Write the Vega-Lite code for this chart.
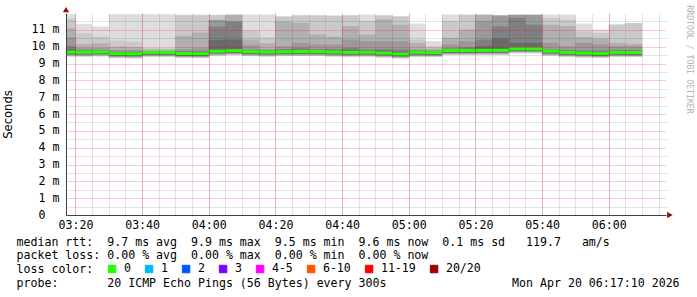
{
  "$schema": "https://vega.github.io/schema/vega-lite/v6.json",
  "width": 600,
  "height": 202,
  "autosize": {"type": "none"},
  "padding": {"left": 66, "top": 13, "right": 31, "bottom": 82},
  "background": "white",
  "config": {"view": {"stroke": null}},
  "data": {"values": [
      {"t": "2026-04-20T03:15:00", "t2": "2026-04-20T03:20:00", "h1": 11.93, "h2": 11.65, "h3": 11.10, "h4": 10.55, "h5": 10.05, "h6": 9.85, "m": 9.68, "lo5": 9.55, "lo3": 9.49, "lo": 9.42, "loss": "0"},
      {"t": "2026-04-20T03:20:00", "t2": "2026-04-20T03:25:00", "h1": 11.36, "h2": 10.80, "h3": 10.15, "h4": 9.92, "h5": 9.80, "h6": 9.74, "m": 9.67, "lo5": 9.54, "lo3": 9.48, "lo": 9.41, "loss": "0"},
      {"t": "2026-04-20T03:25:00", "t2": "2026-04-20T03:30:00", "h1": 11.20, "h2": 10.60, "h3": 10.20, "h4": 9.92, "h5": 9.80, "h6": 9.75, "m": 9.69, "lo5": 9.56, "lo3": 9.50, "lo": 9.43, "loss": "0"},
      {"t": "2026-04-20T03:30:00", "t2": "2026-04-20T03:35:00", "h1": 11.93, "h2": 10.36, "h3": 10.00, "h4": 9.80, "h5": 9.70, "h6": 9.64, "m": 9.58, "lo5": 9.45, "lo3": 9.39, "lo": 9.32, "loss": "0"},
      {"t": "2026-04-20T03:35:00", "t2": "2026-04-20T03:40:00", "h1": 11.93, "h2": 10.30, "h3": 9.97, "h4": 9.80, "h5": 9.70, "h6": 9.63, "m": 9.57, "lo5": 9.44, "lo3": 9.38, "lo": 9.31, "loss": "0"},
      {"t": "2026-04-20T03:40:00", "t2": "2026-04-20T03:45:00", "h1": 11.93, "h2": 9.92, "h3": 9.82, "h4": 9.76, "h5": 9.72, "h6": 9.70, "m": 9.66, "lo5": 9.53, "lo3": 9.47, "lo": 9.40, "loss": "0"},
      {"t": "2026-04-20T03:45:00", "t2": "2026-04-20T03:50:00", "h1": 11.93, "h2": 9.90, "h3": 9.82, "h4": 9.76, "h5": 9.72, "h6": 9.70, "m": 9.66, "lo5": 9.53, "lo3": 9.47, "lo": 9.40, "loss": "0"},
      {"t": "2026-04-20T03:50:00", "t2": "2026-04-20T03:55:00", "h1": 11.91, "h2": 11.86, "h3": 10.64, "h4": 9.85, "h5": 9.75, "h6": 9.68, "m": 9.60, "lo5": 9.47, "lo3": 9.41, "lo": 9.34, "loss": "0"},
      {"t": "2026-04-20T03:55:00", "t2": "2026-04-20T04:00:00", "h1": 11.91, "h2": 11.86, "h3": 10.84, "h4": 9.90, "h5": 9.75, "h6": 9.67, "m": 9.58, "lo5": 9.45, "lo3": 9.39, "lo": 9.32, "loss": "0"},
      {"t": "2026-04-20T04:00:00", "t2": "2026-04-20T04:05:00", "h1": 11.89, "h2": 11.88, "h3": 11.59, "h4": 11.58, "h5": 11.20, "h6": 10.40, "m": 9.73, "lo5": 9.60, "lo3": 9.54, "lo": 9.47, "loss": "0"},
      {"t": "2026-04-20T04:05:00", "t2": "2026-04-20T04:10:00", "h1": 11.91, "h2": 11.90, "h3": 11.89, "h4": 11.50, "h5": 11.49, "h6": 10.42, "m": 9.76, "lo5": 9.63, "lo3": 9.57, "lo": 9.50, "loss": "0"},
      {"t": "2026-04-20T04:10:00", "t2": "2026-04-20T04:15:00", "h1": 11.91, "h2": 10.96, "h3": 10.42, "h4": 10.09, "h5": 9.80, "h6": 9.75, "m": 9.70, "lo5": 9.57, "lo3": 9.51, "lo": 9.44, "loss": "0"},
      {"t": "2026-04-20T04:15:00", "t2": "2026-04-20T04:20:00", "h1": 11.91, "h2": 10.55, "h3": 10.20, "h4": 9.85, "h5": 9.78, "h6": 9.74, "m": 9.68, "lo5": 9.55, "lo3": 9.49, "lo": 9.42, "loss": "0"},
      {"t": "2026-04-20T04:20:00", "t2": "2026-04-20T04:25:00", "h1": 11.81, "h2": 11.78, "h3": 11.50, "h4": 10.03, "h5": 9.85, "h6": 9.77, "m": 9.70, "lo5": 9.57, "lo3": 9.51, "lo": 9.44, "loss": "0"},
      {"t": "2026-04-20T04:25:00", "t2": "2026-04-20T04:30:00", "h1": 11.87, "h2": 11.85, "h3": 11.41, "h4": 10.23, "h5": 9.93, "h6": 9.80, "m": 9.71, "lo5": 9.58, "lo3": 9.52, "lo": 9.45, "loss": "0"},
      {"t": "2026-04-20T04:30:00", "t2": "2026-04-20T04:35:00", "h1": 11.87, "h2": 11.85, "h3": 10.72, "h4": 10.13, "h5": 9.85, "h6": 9.78, "m": 9.71, "lo5": 9.58, "lo3": 9.52, "lo": 9.45, "loss": "0"},
      {"t": "2026-04-20T04:35:00", "t2": "2026-04-20T04:40:00", "h1": 11.85, "h2": 11.83, "h3": 10.60, "h4": 10.12, "h5": 9.85, "h6": 9.76, "m": 9.68, "lo5": 9.55, "lo3": 9.49, "lo": 9.42, "loss": "0"},
      {"t": "2026-04-20T04:40:00", "t2": "2026-04-20T04:45:00", "h1": 11.87, "h2": 11.85, "h3": 11.22, "h4": 10.42, "h5": 9.93, "h6": 9.78, "m": 9.66, "lo5": 9.53, "lo3": 9.47, "lo": 9.40, "loss": "0"},
      {"t": "2026-04-20T04:45:00", "t2": "2026-04-20T04:50:00", "h1": 11.91, "h2": 11.52, "h3": 10.72, "h4": 10.33, "h5": 9.83, "h6": 9.76, "m": 9.67, "lo5": 9.54, "lo3": 9.48, "lo": 9.41, "loss": "0"},
      {"t": "2026-04-20T04:50:00", "t2": "2026-04-20T04:55:00", "h1": 11.87, "h2": 11.85, "h3": 11.61, "h4": 10.33, "h5": 9.85, "h6": 9.75, "m": 9.62, "lo5": 9.49, "lo3": 9.43, "lo": 9.36, "loss": "0"},
      {"t": "2026-04-20T04:55:00", "t2": "2026-04-20T05:00:00", "h1": 11.81, "h2": 11.79, "h3": 11.31, "h4": 10.33, "h5": 9.83, "h6": 9.70, "m": 9.56, "lo5": 9.43, "lo3": 9.37, "lo": 9.30, "loss": "0"},
      {"t": "2026-04-20T05:00:00", "t2": "2026-04-20T05:05:00", "h1": 11.37, "h2": 10.42, "h3": 10.23, "h4": 9.83, "h5": 9.77, "h6": 9.74, "m": 9.66, "lo5": 9.53, "lo3": 9.47, "lo": 9.40, "loss": "0"},
      {"t": "2026-04-20T05:05:00", "t2": "2026-04-20T05:10:00", "h1": 10.33, "h2": 10.03, "h3": 9.89, "h4": 9.80, "h5": 9.75, "h6": 9.72, "m": 9.65, "lo5": 9.52, "lo3": 9.46, "lo": 9.39, "loss": "0"},
      {"t": "2026-04-20T05:10:00", "t2": "2026-04-20T05:15:00", "h1": 11.91, "h2": 11.52, "h3": 10.52, "h4": 10.13, "h5": 9.89, "h6": 9.85, "m": 9.77, "lo5": 9.64, "lo3": 9.58, "lo": 9.51, "loss": "0"},
      {"t": "2026-04-20T05:15:00", "t2": "2026-04-20T05:20:00", "h1": 11.91, "h2": 11.89, "h3": 11.02, "h4": 10.33, "h5": 9.97, "h6": 9.85, "m": 9.77, "lo5": 9.64, "lo3": 9.58, "lo": 9.51, "loss": "0"},
      {"t": "2026-04-20T05:20:00", "t2": "2026-04-20T05:25:00", "h1": 11.91, "h2": 11.90, "h3": 11.89, "h4": 11.52, "h5": 10.42, "h6": 10.03, "m": 9.78, "lo5": 9.65, "lo3": 9.59, "lo": 9.52, "loss": "0"},
      {"t": "2026-04-20T05:25:00", "t2": "2026-04-20T05:30:00", "h1": 11.87, "h2": 11.86, "h3": 11.85, "h4": 11.84, "h5": 11.22, "h6": 10.48, "m": 9.78, "lo5": 9.65, "lo3": 9.59, "lo": 9.52, "loss": "0"},
      {"t": "2026-04-20T05:30:00", "t2": "2026-04-20T05:35:00", "h1": 11.91, "h2": 11.90, "h3": 11.89, "h4": 11.88, "h5": 11.71, "h6": 10.23, "m": 9.87, "lo5": 9.74, "lo3": 9.68, "lo": 9.61, "loss": "0"},
      {"t": "2026-04-20T05:35:00", "t2": "2026-04-20T05:40:00", "h1": 11.91, "h2": 11.90, "h3": 11.89, "h4": 11.88, "h5": 11.31, "h6": 10.23, "m": 9.87, "lo5": 9.74, "lo3": 9.68, "lo": 9.61, "loss": "0"},
      {"t": "2026-04-20T05:40:00", "t2": "2026-04-20T05:45:00", "h1": 11.91, "h2": 11.71, "h3": 11.31, "h4": 10.23, "h5": 9.83, "h6": 9.78, "m": 9.73, "lo5": 9.60, "lo3": 9.54, "lo": 9.47, "loss": "0"},
      {"t": "2026-04-20T05:45:00", "t2": "2026-04-20T05:50:00", "h1": 11.91, "h2": 11.61, "h3": 11.22, "h4": 10.03, "h5": 9.80, "h6": 9.74, "m": 9.66, "lo5": 9.53, "lo3": 9.47, "lo": 9.40, "loss": "0"},
      {"t": "2026-04-20T05:50:00", "t2": "2026-04-20T05:55:00", "h1": 11.37, "h2": 10.92, "h3": 10.56, "h4": 10.23, "h5": 9.77, "h6": 9.70, "m": 9.62, "lo5": 9.49, "lo3": 9.43, "lo": 9.36, "loss": "0"},
      {"t": "2026-04-20T05:55:00", "t2": "2026-04-20T06:00:00", "h1": 11.02, "h2": 10.82, "h3": 10.48, "h4": 10.13, "h5": 9.77, "h6": 9.70, "m": 9.60, "lo5": 9.47, "lo3": 9.41, "lo": 9.34, "loss": "0"},
      {"t": "2026-04-20T06:00:00", "t2": "2026-04-20T06:05:00", "h1": 11.33, "h2": 11.30, "h3": 10.23, "h4": 10.03, "h5": 9.80, "h6": 9.72, "m": 9.66, "lo5": 9.53, "lo3": 9.47, "lo": 9.40, "loss": "0"},
      {"t": "2026-04-20T06:05:00", "t2": "2026-04-20T06:10:00", "h1": 11.41, "h2": 11.39, "h3": 10.17, "h4": 10.03, "h5": 9.80, "h6": 9.72, "m": 9.65, "lo5": 9.52, "lo3": 9.46, "lo": 9.39, "loss": "0"}
  ]},
  "layer": [
    {
      "mark": {"type": "square", "filled": true, "size": 0, "opacity": 1, "stroke": "#000000", "strokeWidth": 1},
      "encoding": {
        "color": {"field": "loss", "type": "nominal",
                  "scale": {"domain": ["0", "1", "2", "3", "4-5", "6-10", "11-19", "20/20"],
                            "range": ["#26ff00", "#00b8ff", "#0059ff", "#7e00ff", "#ff00ff", "#ff5500", "#ff0000", "#a10000"]},
                  "legend": {"orient": "none", "legendX": 40.3, "legendY": 250, "direction": "horizontal", "columns": 8, "title": null,
                             "symbolType": "square", "symbolSize": 56, "symbolStrokeColor": "#000000", "symbolStrokeWidth": 1, "symbolOpacity": 1,
                             "labelFont": "DejaVu Sans Mono", "labelFontSize": 11.6, "labelColor": "#000000", "labelOffset": 6,
                             "columnPadding": 12, "padding": 0}}
      }
    },
    {
      "mark": {"type": "bar", "color": "#dddddd", "clip": true},
      "encoding": {
        "x": {"field": "t", "type": "temporal",
              "scale": {"domain": [{"year": 2026, "month": 4, "date": 20, "hours": 3, "minutes": 17, "seconds": 10}, {"year": 2026, "month": 4, "date": 20, "hours": 6, "minutes": 17, "seconds": 10}]},
              "axis": {"orient": "bottom", "format": "%H:%M",
                       "values": [
                         {"year": 2026, "month": 4, "date": 20, "hours": 3, "minutes": 20},
                         {"year": 2026, "month": 4, "date": 20, "hours": 3, "minutes": 40},
                         {"year": 2026, "month": 4, "date": 20, "hours": 4, "minutes": 0},
                         {"year": 2026, "month": 4, "date": 20, "hours": 4, "minutes": 20},
                         {"year": 2026, "month": 4, "date": 20, "hours": 4, "minutes": 40},
                         {"year": 2026, "month": 4, "date": 20, "hours": 5, "minutes": 0},
                         {"year": 2026, "month": 4, "date": 20, "hours": 5, "minutes": 20},
                         {"year": 2026, "month": 4, "date": 20, "hours": 5, "minutes": 40},
                         {"year": 2026, "month": 4, "date": 20, "hours": 6, "minutes": 0}
                       ],
                       "labelFont": "DejaVu Sans Mono", "labelFontSize": 11.6, "labelColor": "#000000", "labelPadding": 4, "labelFlush": false, "labelOverlap": false,
                       "ticks": false, "domainColor": "#404040", "zindex": 1,
                       "grid": true, "gridColor": "#ff0000", "gridOpacity": 0.4, "gridDash": [1, 1],
                       "title": [
                         "median rtt:\u00a0\u00a09.7 ms avg\u00a0\u00a09.9 ms max\u00a0\u00a09.5 ms min\u00a0\u00a09.6 ms now\u00a0\u00a00.1 ms sd\u00a0\u00a0\u00a0119.7\u00a0\u00a0\u00a0am/s",
                         "packet loss: 0.00 % avg\u00a0\u00a00.00 % max\u00a0\u00a00.00 % min\u00a0\u00a00.00 % now",
                         "loss color:",
                         "probe:\u00a0\u00a0\u00a0\u00a0\u00a0\u00a0\u00a020 ICMP Echo Pings (56 Bytes) every 300s\u00a0\u00a0\u00a0\u00a0\u00a0\u00a0\u00a0\u00a0\u00a0\u00a0\u00a0\u00a0\u00a0\u00a0\u00a0\u00a0\u00a0\u00a0Mon Apr 20 06:17:10 2026"
                       ],
                       "titleFont": "DejaVu Sans Mono", "titleFontSize": 11.6, "titleFontWeight": "normal", "titleColor": "#000000",
                       "titleAlign": "left", "titleBaseline": "alphabetic", "titleLineHeight": 13.9,
                       "titleX": -50, "titleY": 30}},
        "x2": {"field": "t2"},
        "y": {"field": "h1", "type": "quantitative", "scale": {"domain": [0, 12], "nice": false},
              "axis": {"orient": "left", "values": [0, 1, 2, 3, 4, 5, 6, 7, 8, 9, 10, 11],
                       "labelExpr": "datum.value == 0 ? '0' : datum.value + ' m'",
                       "labelFont": "DejaVu Sans Mono", "labelFontSize": 11.6, "labelColor": "#000000",
                       "labelPadding": {"condition": {"test": "datum.value == 0", "value": 21}, "value": 7},
                       "labelOverlap": false,
                       "ticks": false, "domainColor": "#404040", "zindex": 1,
                       "grid": true, "gridColor": "#ff0000", "gridOpacity": 0.4, "gridDash": [1, 1],
                       "title": "Seconds", "titleFont": "DejaVu Sans", "titleFontSize": 11.6, "titleFontWeight": "normal", "titleColor": "#000000",
                       "titleX": -53, "titleY": 101}},
        "y2": {"field": "lo"}
      }
    },
    {
      "mark": {"type": "bar", "color": "#c9c9c9", "clip": true},
      "encoding": {
        "x": {"field": "t", "type": "temporal",
              "axis": {"orient": "top", "tickCount": 36, "labels": false, "ticks": false, "domain": false, "title": null, "zindex": 1,
                       "grid": true, "gridColor": "#000000", "gridOpacity": 0.22, "gridDash": [1, 1]}},
        "x2": {"field": "t2"},
        "y": {"field": "h2", "type": "quantitative",
              "axis": {"orient": "right", "values": [0.5, 1.5, 2.5, 3.5, 4.5, 5.5, 6.5, 7.5, 8.5, 9.5, 10.5, 11.5], "labels": false, "ticks": false, "domain": false, "zindex": 1,
                       "grid": true, "gridColor": "#000000", "gridOpacity": 0.22, "gridDash": [1, 1],
                       "title": "RRDTOOL / TOBI OETIKER", "titleFont": "DejaVu Sans Mono", "titleFontSize": 8.2, "titleFontWeight": "normal", "titleColor": "#b4b4b4",
                       "titleAngle": 90, "titleX": 22, "titleY": 46, "titleBaseline": "middle", "titleAlign": "center"}},
        "y2": {"field": "lo"}
      }
    },
    {
      "mark": {"type": "bar", "color": "#b0b0b0", "clip": true},
      "encoding": {
        "x": {"field": "t", "type": "temporal", "axis": null},
        "x2": {"field": "t2"},
        "y": {"field": "h3", "type": "quantitative", "axis": null},
        "y2": {"field": "lo3"}
      }
    },
    {
      "mark": {"type": "bar", "color": "#9a9a9a", "clip": true},
      "encoding": {
        "x": {"field": "t", "type": "temporal", "axis": null},
        "x2": {"field": "t2"},
        "y": {"field": "h4", "type": "quantitative", "axis": null},
        "y2": {"field": "lo3"}
      }
    },
    {
      "mark": {"type": "bar", "color": "#808080", "clip": true},
      "encoding": {
        "x": {"field": "t", "type": "temporal", "axis": null},
        "x2": {"field": "t2"},
        "y": {"field": "h5", "type": "quantitative", "axis": null},
        "y2": {"field": "lo5"}
      }
    },
    {
      "mark": {"type": "bar", "color": "#6a6a6a", "clip": true},
      "encoding": {
        "x": {"field": "t", "type": "temporal", "axis": null},
        "x2": {"field": "t2"},
        "y": {"field": "h6", "type": "quantitative", "axis": null},
        "y2": {"field": "lo5"}
      }
    },
    {
      "mark": {"type": "rule", "strokeWidth": 3, "strokeCap": "butt", "clip": true},
      "encoding": {
        "x": {"field": "t", "type": "temporal", "axis": null},
        "x2": {"field": "t2"},
        "y": {"field": "m", "type": "quantitative", "axis": null},
        "color": {"field": "loss", "type": "nominal"}
      }
    },
    {
      "data": {"values": [{}]},
      "mark": {"type": "point", "shape": "triangle-up", "filled": true, "size": 40, "color": "#8b1010", "opacity": 1},
      "encoding": {
        "x": {"datum": {"year": 2026, "month": 4, "date": 20, "hours": 3, "minutes": 17, "seconds": 10}, "type": "temporal", "axis": null},
        "y": {"datum": 12.2, "type": "quantitative", "axis": null}
      }
    },
    {
      "data": {"values": [{}]},
      "mark": {"type": "point", "shape": "triangle-right", "filled": true, "size": 40, "color": "#8b1010", "opacity": 1},
      "encoding": {
        "x": {"datum": {"year": 2026, "month": 4, "date": 20, "hours": 6, "minutes": 18, "seconds": 20}, "type": "temporal", "axis": null},
        "y": {"datum": 0, "type": "quantitative", "axis": null}
      }
    }
  ]
}
